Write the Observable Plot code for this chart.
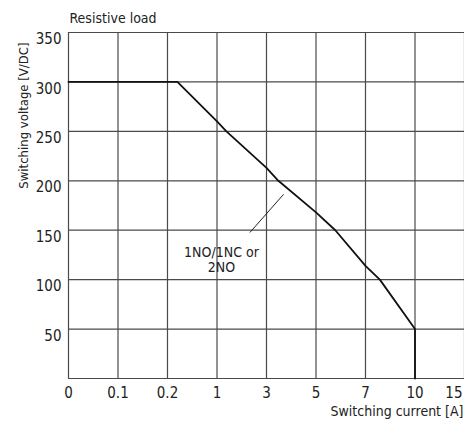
<!DOCTYPE html>
<html>
<head>
<meta charset="utf-8">
<script src="https://cdn.jsdelivr.net/npm/d3@7"></script>
<script src="https://cdn.jsdelivr.net/npm/@observablehq/plot@0.6"></script>
<style>
  html, body { margin: 0; padding: 0; background: #fff; }
  svg { display: block; }
</style>
</head>
<body>
<div id="chart"></div>
<script>
// X axis tick values (current, A) – the axis is spaced evenly per tick
const xTicks = [0, 0.1, 0.2, 1, 3, 5, 7, 10, 15];
const xTickLabels = ["0", "0.1", "0.2", "1", "3", "5", "7", "10", "15"];
// Y axis tick values (voltage, V/DC)
const yTicks = [50, 100, 150, 200, 250, 300, 350];
const yGrid = [0, 50, 100, 150, 200, 250, 300, 350];

// Limit curve: 1NO/1NC or 2NO, resistive load
const curveCurrent = [0, 0.36, 1, 1.38, 3, 3.48, 5, 5.78, 7, 7.87, 10, 10];
const curveVoltage = [300, 300, 260, 250, 213, 200, 168, 150, 114, 100, 50, 0];

// Annotation
const noteText = "1NO/1NC or\n2NO";
const notePos = { current: 1.18, voltage: 120 };
const leaderCurrent = [2.34, 3.68];
const leaderVoltage = [148, 186];

const titleText = "Resistive load";
const xLabel = "Switching current [A]";
const yLabel = "Switching voltage [V/DC]";

// piecewise mapping of current onto evenly spaced tick positions
const pos = d3.scaleLinear().domain(xTicks).range(d3.range(xTicks.length));

const curve = curveCurrent.map((c, i) => ({ x: pos(c), y: curveVoltage[i] }));
const leader = leaderCurrent.map((c, i) => ({ x: pos(c), y: leaderVoltage[i] }));
const xTickData = xTicks.map((t, i) => ({ x: pos(t), label: xTickLabels[i] }));

const font = "'Liberation Sans Narrow', 'DejaVu Sans Condensed', sans-serif";

const chart = Plot.plot({
  width: 464,
  height: 421,
  marginLeft: 68,
  marginRight: 0,
  marginTop: 32,
  marginBottom: 43,
  style: { fontFamily: font, fontSize: "14px", color: "#222", background: "#fff" },
  x: { type: "linear", domain: [0, xTicks.length - 1], axis: null },
  y: { type: "linear", domain: [0, 350], axis: null },
  marks: [
    Plot.ruleX(xTickData, { x: "x", stroke: "#4a4a4a", strokeWidth: 1.2 }),
    Plot.ruleY(yGrid, { stroke: "#4a4a4a", strokeWidth: 1.2 }),
    Plot.line(curve, { x: "x", y: "y", stroke: "#111", strokeWidth: 1.8 }),
    Plot.line(leader, { x: "x", y: "y", stroke: "#222", strokeWidth: 1 }),
    Plot.text([noteText], { x: pos(notePos.current), y: notePos.voltage, textAnchor: "middle", lineAnchor: "middle", lineHeight: 1.05, fill: "#222", fontSize: 14 }),
    // x tick labels
    Plot.text(xTickData.slice(0, -1), { x: "x", y: 0, text: "label", dy: 15, lineAnchor: "middle", fill: "#222", fontSize: 15 }),
    Plot.text(xTickData.slice(-1), { x: "x", y: 0, text: "label", dy: 15, dx: -2, textAnchor: "end", lineAnchor: "middle", fill: "#222", fontSize: 15 }),
    // y tick labels
    Plot.text(yTicks, { x: 0, y: d => d, text: d => String(d), dx: -7, dy: 1, textAnchor: "end", lineAnchor: "top", fill: "#222", fontSize: 15 }),
    // titles
    Plot.text([titleText], { x: 0, y: 350, dx: 1, dy: -10, textAnchor: "start", lineAnchor: "bottom", fill: "#222", fontSize: 14 }),
    Plot.text([xLabel], { frameAnchor: "bottom-right", dx: -1, dy: 33, textAnchor: "end", lineAnchor: "middle", fill: "#222", fontSize: 14 }),
    Plot.text([yLabel], { frameAnchor: "top-left", dx: -45, dy: 10, rotate: -90, textAnchor: "end", lineAnchor: "middle", fill: "#222", fontSize: 13 })
  ]
});
document.getElementById("chart").appendChild(chart);
</script>
</body>
</html>
